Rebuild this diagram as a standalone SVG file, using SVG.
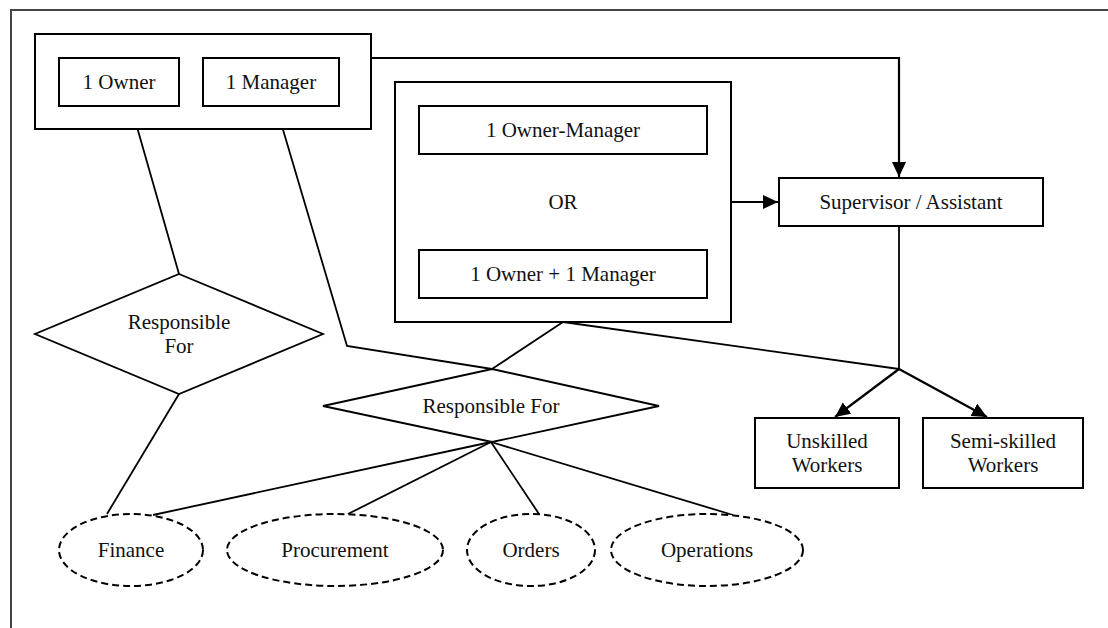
<svg xmlns="http://www.w3.org/2000/svg" width="1108" height="628" viewBox="0 0 1108 628">
  <style>
    .box { fill: #fff; stroke: #000; stroke-width: 2; }
    .rel { fill: #fff; stroke: #000; stroke-width: 1.8; }
    .attr { fill: #fff; stroke: #000; stroke-width: 2; stroke-dasharray: 7 4; }
    .line { fill: none; stroke: #000; stroke-width: 1.8; }
    .arrow { fill: none; stroke: #000; stroke-width: 2.2; marker-end: url(#head); }
    text { font-family: "Liberation Serif", "Times New Roman", serif; font-size: 21px; fill: #111; text-anchor: middle; }
  </style>
  <defs>
    <marker id="head" markerUnits="userSpaceOnUse" markerWidth="16" markerHeight="15" refX="15" refY="7" orient="auto">
      <path d="M0,0 L15,7 L0,14 Z" fill="#000"/>
    </marker>
  </defs>

  <rect width="1108" height="628" fill="#fff"/>
  <!-- page frame -->
  <path d="M11,628 V10 H1108" fill="none" stroke="#444" stroke-width="2"/>

  <!-- connectors -->
  <g id="connectors">
    <polyline class="arrow" points="371,58 899,58 899,177"/>
    <line class="arrow" x1="731" y1="202" x2="778" y2="202"/>
    <line class="line" x1="899" y1="226" x2="899" y2="369"/>
    <line class="line" x1="563" y1="322" x2="899" y2="369"/>
    <line class="arrow" x1="899" y1="369" x2="835" y2="417"/>
    <line class="arrow" x1="899" y1="369" x2="987" y2="417"/>
    <line class="line" x1="131" y1="106" x2="179" y2="274"/>
    <line class="line" x1="179" y1="394" x2="107" y2="514"/>
    <polyline class="line" points="276,106 347,346 492,369"/>
    <line class="line" x1="563" y1="322" x2="492" y2="369"/>
    <line class="line" x1="491" y1="442" x2="153" y2="515"/>
    <line class="line" x1="491" y1="442" x2="348" y2="514"/>
    <line class="line" x1="491" y1="442" x2="539" y2="514"/>
    <line class="line" x1="491" y1="442" x2="733" y2="515"/>
  </g>

  <g id="owner-manager-pair">
    <rect class="box" x="35" y="34" width="336" height="95"/>
    <g id="owner">
      <rect class="box" x="59" y="58" width="120" height="48"/>
      <text x="119" y="89">1 Owner</text>
    </g>
    <g id="manager">
      <rect class="box" x="203" y="58" width="136" height="48"/>
      <text x="271" y="89">1 Manager</text>
    </g>
  </g>

  <g id="management-options">
    <rect class="box" x="395" y="82" width="336" height="240"/>
    <g id="owner-manager">
      <rect class="box" x="419" y="106" width="288" height="48"/>
      <text x="563" y="137">1 Owner-Manager</text>
    </g>
    <text x="563" y="209">OR</text>
    <g id="owner-plus-manager">
      <rect class="box" x="419" y="250" width="288" height="48"/>
      <text x="563" y="281">1 Owner + 1 Manager</text>
    </g>
  </g>

  <g id="supervisor">
    <rect class="box" x="779" y="178" width="264" height="48"/>
    <text x="911" y="209">Supervisor / Assistant</text>
  </g>

  <g id="unskilled">
    <rect class="box" x="755" y="418" width="144" height="70"/>
    <text x="827" y="448">Unskilled</text>
    <text x="827" y="472">Workers</text>
  </g>

  <g id="semi-skilled">
    <rect class="box" x="923" y="418" width="160" height="70"/>
    <text x="1003" y="448">Semi-skilled</text>
    <text x="1003" y="472">Workers</text>
  </g>

  <g id="responsible-for-left">
    <polygon class="rel" points="179,274 323,334 179,394 35,334"/>
    <text x="179" y="329">Responsible</text>
    <text x="179" y="353">For</text>
  </g>

  <g id="responsible-for-center">
    <polygon class="rel" points="492,369 659,406 492,442 323,406"/>
    <text x="491" y="413">Responsible For</text>
  </g>

  <g id="finance">
    <ellipse class="attr" cx="131" cy="550" rx="72" ry="36"/>
    <text x="131" y="557">Finance</text>
  </g>
  <g id="procurement">
    <ellipse class="attr" cx="335" cy="550" rx="108" ry="36"/>
    <text x="335" y="557">Procurement</text>
  </g>
  <g id="orders">
    <ellipse class="attr" cx="531" cy="550" rx="64" ry="36"/>
    <text x="531" y="557">Orders</text>
  </g>
  <g id="operations">
    <ellipse class="attr" cx="707" cy="550" rx="96" ry="36"/>
    <text x="707" y="557">Operations</text>
  </g>
</svg>
